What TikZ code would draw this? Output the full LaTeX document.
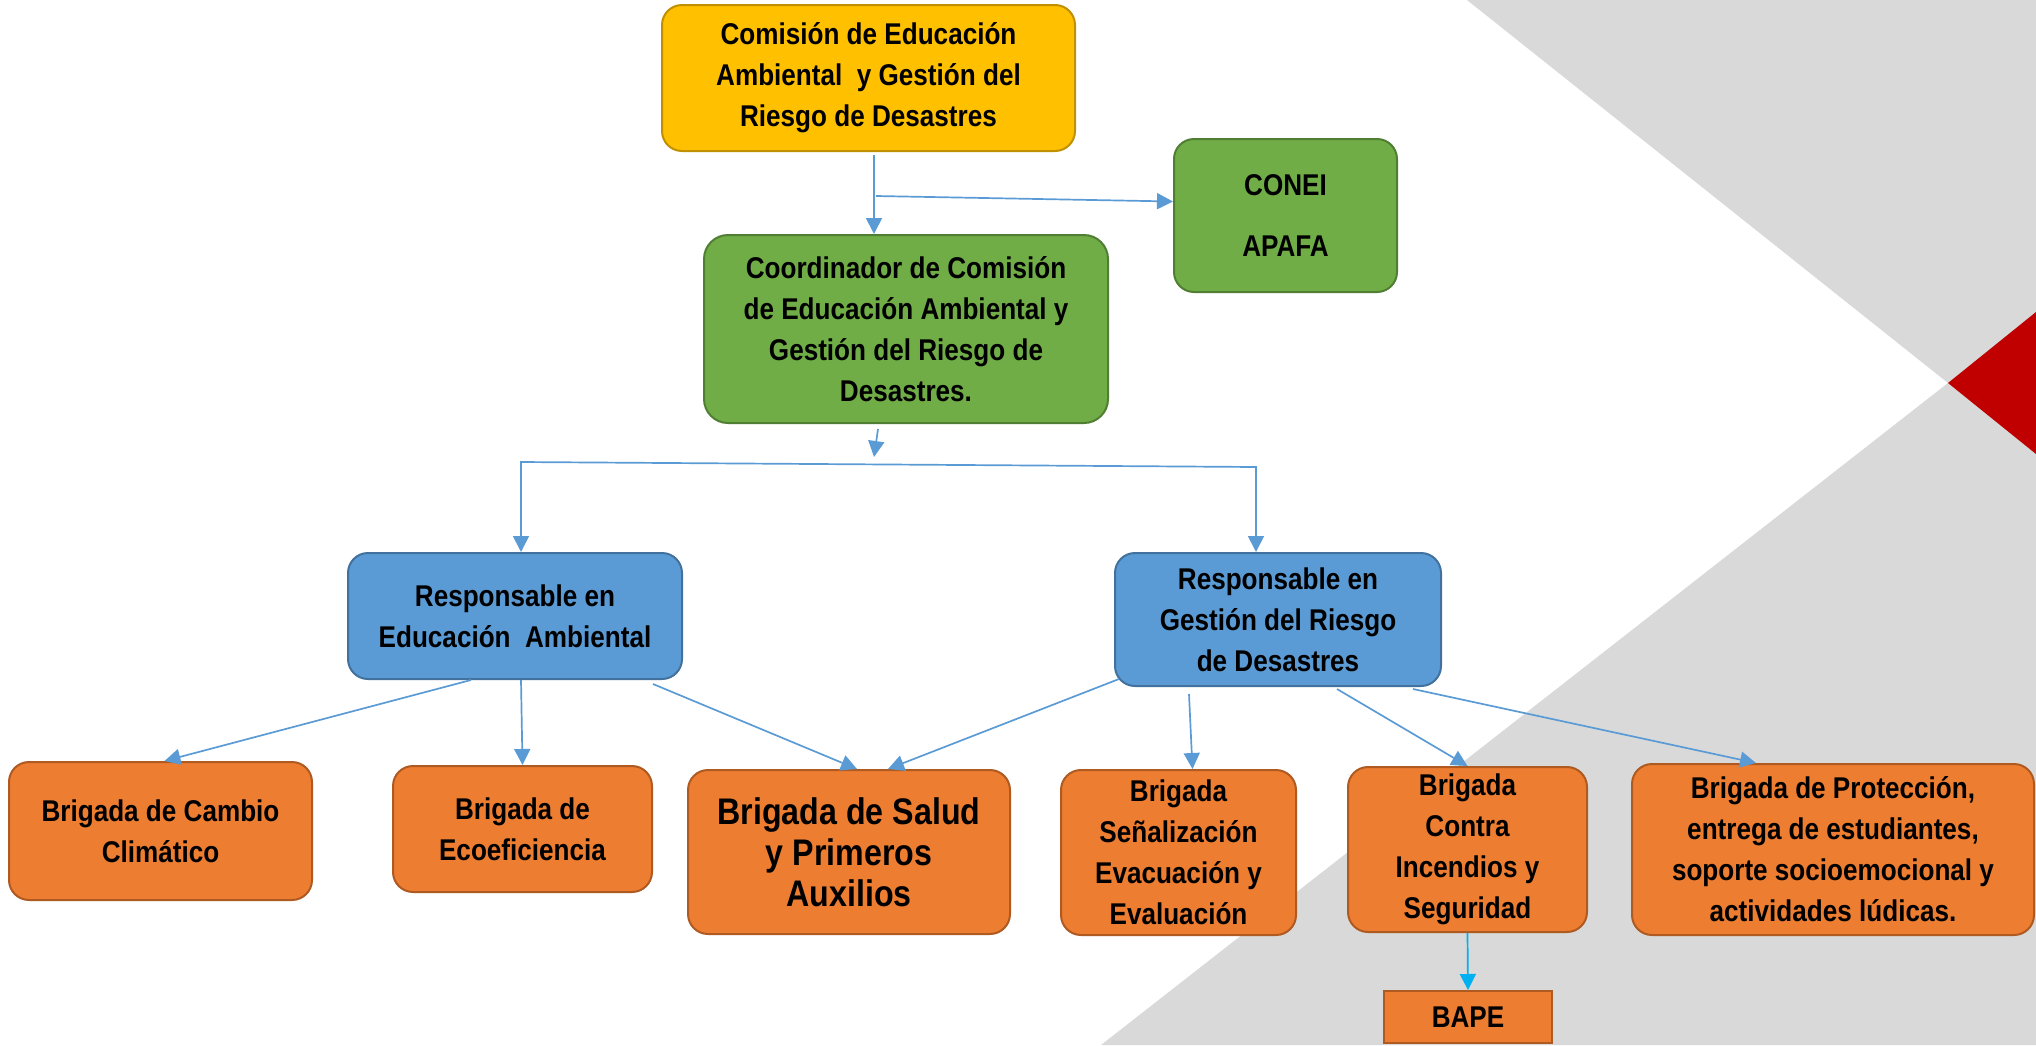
\documentclass[tikz,border=0pt]{standalone}
\usepackage{fontspec}
\setmainfont{Liberation Sans}[FakeStretch=0.87]
\usepackage{tikz}
\usetikzlibrary{arrows.meta,calc}

\newcommand{\letranormal}{\fontsize{15}{20.5}\selectfont\bfseries}
\newcommand{\letragrande}{\fontsize{18.5}{20.5}\selectfont\bfseries}

\tikzset{
	caja/.style={draw, line width=1pt, rounded corners=10pt, align=center, inner sep=2pt, font=\letranormal},
	comision/.style={caja, fill=amarillo, draw=amarilloborde},
	coordinador/.style={caja, fill=verde, draw=verdeborde},
	responsable/.style={caja, fill=azul, draw=azulborde},
	brigada/.style={caja, fill=naranja, draw=naranjaborde},
	flecha/.style={draw=azul, line width=0.85pt, -{Triangle[length=8pt,width=8pt]}},
}

\begin{document}
\begin{tikzpicture}[x=0.5pt, y=-0.5pt]
			\definecolor{amarillo}{HTML}{FFC000}
			\definecolor{amarilloborde}{HTML}{C09000}
			\definecolor{verde}{HTML}{70AD47}
			\definecolor{verdeborde}{HTML}{507E32}
			\definecolor{azul}{HTML}{5B9BD5}
			\definecolor{azulborde}{HTML}{41719C}
			\definecolor{naranja}{HTML}{ED7D31}
			\definecolor{naranjaborde}{HTML}{AE5A21}
			\definecolor{celeste}{HTML}{00B0F0}
			\definecolor{gris}{HTML}{D9D9D9}
			\definecolor{rojo}{HTML}{C00000}
			\useasboundingbox (0,0) rectangle (2036,1045);
			% fondo
			\fill[gris] (1467,0) -- (2036,0) -- (2036,1045) -- (1101,1045) -- (1948,383) -- cycle;
			\fill[rojo] (1948,383) -- (2036,312) -- (2036,454) -- cycle;
			
			% comision
			\node[comision, minimum width=206.5pt, minimum height=73pt] (comision) at (868.5,78) {Comisión de Educación\\Ambiental~~y Gestión del\\Riesgo de Desastres};
			\node[coordinador, minimum width=111.5pt, minimum height=76.5pt] (conei) at (1285.5,215.5) {CONEI\\[10pt]APAFA};
			\node[coordinador, rounded corners=12pt, minimum width=202pt, minimum height=94pt] (coord) at (906,329) {Coordinador de Comisión\\de Educación Ambiental y\\Gestión del Riesgo de\\Desastres.};
			
			% responsables
			\node[responsable, minimum width=167pt, minimum height=63pt] (resEA) at (515,616) {Responsable en\\Educación~~Ambiental};
			\node[responsable, minimum width=163pt, minimum height=66.5pt] (resGRD) at (1278,619.5) {Responsable en\\Gestión del Riesgo\\de Desastres};
			
			% brigadas
			\node[brigada, minimum width=151.5pt, minimum height=69pt] (cambio) at (160.5,831) {Brigada de Cambio\\Climático};
			\node[brigada, minimum width=129.5pt, minimum height=63pt] (ecoef) at (522.5,829) {Brigada de\\Ecoeficiencia};
			\node[brigada, font=\letragrande, minimum width=161pt, minimum height=82pt] (salud) at (849,852) {Brigada de Salud\\y Primeros\\Auxilios};
			\node[brigada, minimum width=117.5pt, minimum height=82.5pt] (senal) at (1178.5,852.5) {Brigada\\Señalización\\Evacuación y\\Evaluación};
			\node[brigada, minimum width=119.5pt, minimum height=82.5pt] (incendios) at (1467.5,849.5) {Brigada\\Contra\\Incendios y\\Seguridad};
			\node[brigada, minimum width=201pt, minimum height=85.5pt] (proteccion) at (1833,849.5) {Brigada de Protección,\\entrega de estudiantes,\\soporte socioemocional y\\actividades lúdicas.};
			\node[brigada, rounded corners=0pt, minimum width=84pt, minimum height=26pt] (bape) at (1468,1017) {BAPE};
			
			% flechas comision
			\coordinate (cs) at (874,155);
			\coordinate (jc) at (876,196);
			\draw[flecha] (cs) -- (cs |- coord.north);
			\draw[flecha] (jc) -- ($(conei.west)+(0,-14)$);
			% flechas coordinador
			\coordinate (fin) at (874,457);
			\coordinate (hL) at (521,462);
			\coordinate (hR) at (1256,467);
			\draw[flecha] ($(coord.south)+(-28,5)$) -- (fin);
			\draw[flecha, {Triangle[length=8pt,width=8pt]}-{Triangle[length=8pt,width=8pt]}] (hL |- resEA.north) -- (hL) -- (hR) -- (hR |- resGRD.north);
			% flechas educacion ambiental
			\draw[flecha] ($(resEA.south)+(-44,0)$) -- ($(cambio.north)+(4,0)$);
			\draw[flecha] ($(resEA.south)+(6,0)$) -- (ecoef.north);
			\draw[flecha] ($(resEA.south east)+(-30,4)$) -- ($(salud.north)+(8,0)$);
			% flechas gestion del riesgo
			\draw[flecha] ($(resGRD.south west)+(5,-8)$) -- ($(salud.north)+(39,0)$);
			\draw[flecha] ($(resGRD.south)+(-89,7)$) -- ($(senal.north)+(14,0)$);
			\draw[flecha] ($(resGRD.south)+(59,2)$) -- (incendios.north);
			\draw[flecha] ($(resGRD.south)+(135,2)$) -- ($(proteccion.north)+(-77,0)$);
			% BAPE
			\draw[flecha, draw=celeste, -{Triangle[length=8pt,width=8pt,fill=celeste]}] (incendios.south) -- (bape.north);
			
\end{tikzpicture}
\end{document}
